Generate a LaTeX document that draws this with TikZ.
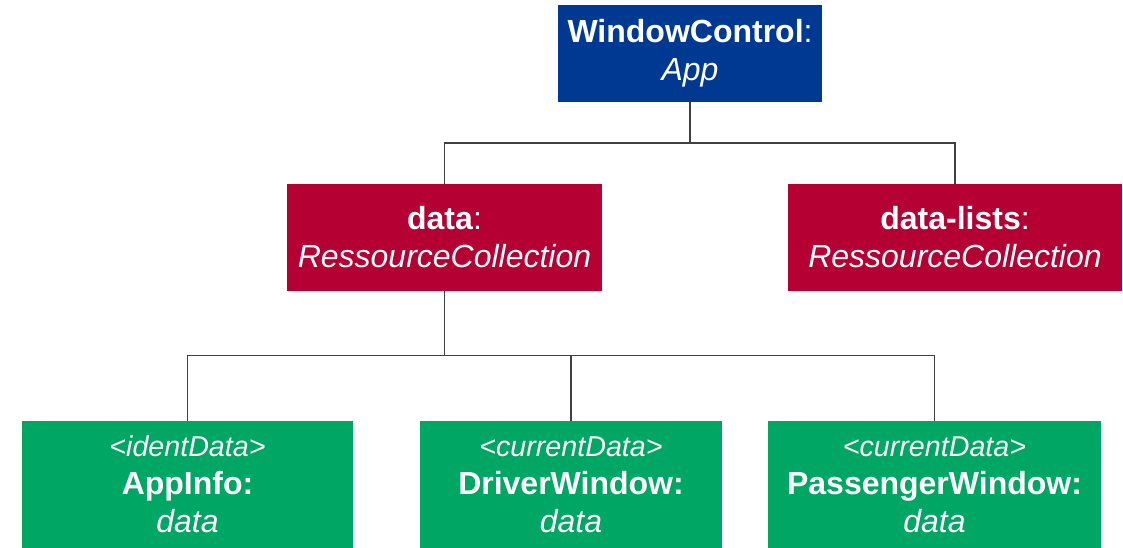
\documentclass[tikz,border=0pt]{standalone}
\usepackage{fontspec}
\setmainfont{Liberation Sans}
\usepackage{tikz}

\definecolor{appblue}{RGB}{0,57,145}
\definecolor{collred}{RGB}{181,0,52}
\definecolor{datagreen}{RGB}{0,166,99}

\begin{document}
\begin{tikzpicture}[x=0.75pt,y=-0.75pt,
  obj/.style={inner sep=0pt,text=white,align=center,
    font=\fontsize{24}{28.5}\selectfont},
  link/.style={draw=black!75,line width=1pt}]
 \useasboundingbox (0,0) rectangle (1123,548);
 \newcommand{\stereo}[1]{{\fontsize{21.5}{28.5}\selectfont\itshape #1}}

 \node[obj,fill=appblue,minimum width=198pt,minimum height=72.75pt] (app) at (690,53.5)
  {\textbf{WindowControl}:\\\textit{App}}; %ルート
 \node[obj,fill=collred,minimum width=236.25pt,minimum height=80.25pt] (data) at (444.5,237.5)
  {\textbf{data}:\\\textit{RessourceCollection}};
 \node[obj,fill=collred,minimum width=250.5pt,minimum height=80.25pt] (lists) at (955,237.5)
  {\textbf{data-lists}:\\\textit{RessourceCollection}};
 \node[obj,fill=datagreen,minimum width=248.25pt,minimum height=95.25pt] (appinfo) at (187.5,484.5)
  {\stereo{<identData>}\\\textbf{AppInfo:}\\\textit{data}};
 \node[obj,fill=datagreen,minimum width=226.5pt,minimum height=95.25pt] (driver) at (571,484.5)
  {\stereo{<currentData>}\\\textbf{DriverWindow:}\\\textit{data}};
 \node[obj,fill=datagreen,minimum width=249.75pt,minimum height=95.25pt] (passenger) at (934.5,484.5)
  {\stereo{<currentData>}\\\textbf{PassengerWindow:}\\\textit{data}};

 \coordinate (top) at (690,143); %上の分岐
 \coordinate (mid) at (444.5,355.7); %下の分岐
 \draw[link] (app.south)--(top);
 \draw[link] (data.north) |- (top) -| (lists.north);
 \draw[link] (data.south)--(mid);
 \draw[link] (appinfo.north) |- (mid) -| (passenger.north);
 \draw[link] (driver.north)--(driver.north |- mid);
\end{tikzpicture}
\end{document}
